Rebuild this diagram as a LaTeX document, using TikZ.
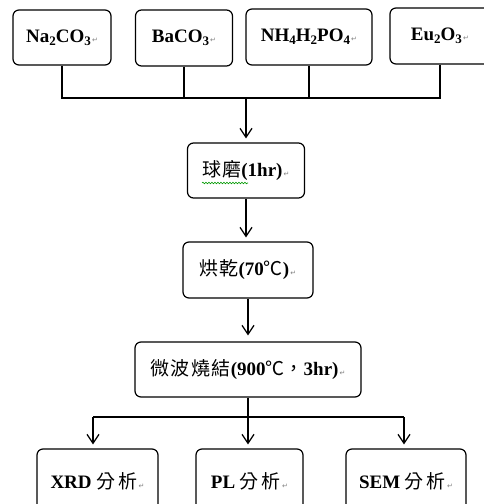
\documentclass[tikz,border=0pt]{standalone}
\usepackage{fontspec}
\setmainfont{Liberation Serif}
\newfontfamily\cjk{Noto Sans CJK TC}
\newfontfamily\symf{DejaVu Sans}
\usetikzlibrary{arrows.meta,decorations.pathmorphing}
\newcommand{\rt}{{\symf\mdseries\fontsize{7}{7}\selectfont\color{gray}\,↵}}
\newcommand{\chsub}[1]{\raisebox{-0.35ex}{\fontsize{13}{13}\selectfont #1}}
\newcommand{\zh}[1]{{\cjk\mdseries #1}}
\begin{document}
\begin{tikzpicture}[x=1pt,y=-1pt,
  box/.style={draw,line width=1.2pt,rounded corners=6pt,font=\fontsize{19}{22}\selectfont\bfseries,inner sep=0pt,align=center},
  ln/.style={line width=1.2pt},
  arr/.style={line width=1.2pt,-{Straight Barb[length=9pt,width=12pt,line width=1.2pt]}}]
\useasboundingbox (0,0) rectangle (484,504);
% top row
\node[box,minimum width=98pt,minimum height=55pt] (A) at (62,37.5) {Na\chsub{2}CO\chsub{3}\rt};
\node[box,minimum width=97pt,minimum height=56pt] (B) at (184,38) {BaCO\chsub{3}\rt};
\node[box,minimum width=126pt,minimum height=56pt] (C) at (309,37) {NH\chsub{4}H\chsub{2}PO\chsub{4}\rt};
\node[box,minimum width=100pt,minimum height=56pt] (D) at (440,36) {Eu\chsub{2}O\chsub{3}\rt};
% chain
\node[box,minimum width=117pt,minimum height=55pt] (E) at (246,170.5) {\zh{球\hspace{1pt}磨}(1hr)\rt};
\node[box,minimum width=130pt,minimum height=56pt] (F) at (248,270) {\zh{烘\hspace{1pt}乾}(70\zh{℃})\rt};
\node[box,minimum width=226pt,minimum height=55pt] (G) at (248,369.5) {\zh{微\hspace{1.5pt}波\hspace{1.5pt}燒\hspace{1.5pt}結}(900\zh{℃，}3hr)\rt};
% bottom row
\node[box,minimum width=121pt,minimum height=64pt] (H) at (97.5,481) {XRD \zh{分\hspace{3pt}析}\rt};
\node[box,minimum width=107pt,minimum height=64pt] (I) at (249.5,481) {PL \zh{分\hspace{3pt}析}\rt};
\node[box,minimum width=120pt,minimum height=64pt] (J) at (406,481) {SEM \zh{分\hspace{3pt}析}\rt};
% junctions
\coordinate (jt) at (246,98);
\coordinate (bl) at (93,417);
\coordinate (bm) at (248,417);
\coordinate (br) at (404,417);
\draw[ln] (A.south) |- (jt);
\draw[ln] (B.south) -- (B.south |- jt);
\draw[ln] (C.south) -- (C.south |- jt);
\draw[ln] (D.south) |- (jt);
\draw[arr,shorten >=4pt] (jt) -- (E.north);
\draw[arr,shorten >=4pt] (E.south) -- (E.south |- F.north);
\draw[arr,shorten >=6pt] (F.south) -- (F.south |- G.north);
\draw[ln] (G.south) -- (bm);
\draw[ln] (bl) -- (br);
\draw[arr,shorten >=4pt] (bl) -- (bl |- H.north);
\draw[arr,shorten >=4pt] (bm) -- (bm |- I.north);
\draw[arr,shorten >=4pt] (br) -- (br |- J.north);
% spell-check underline
\draw[green!60!black,line width=0.6pt,decorate,decoration={snake,amplitude=0.8pt,segment length=3pt}] (202,183) -- (248,183);
\end{tikzpicture}
\end{document}
